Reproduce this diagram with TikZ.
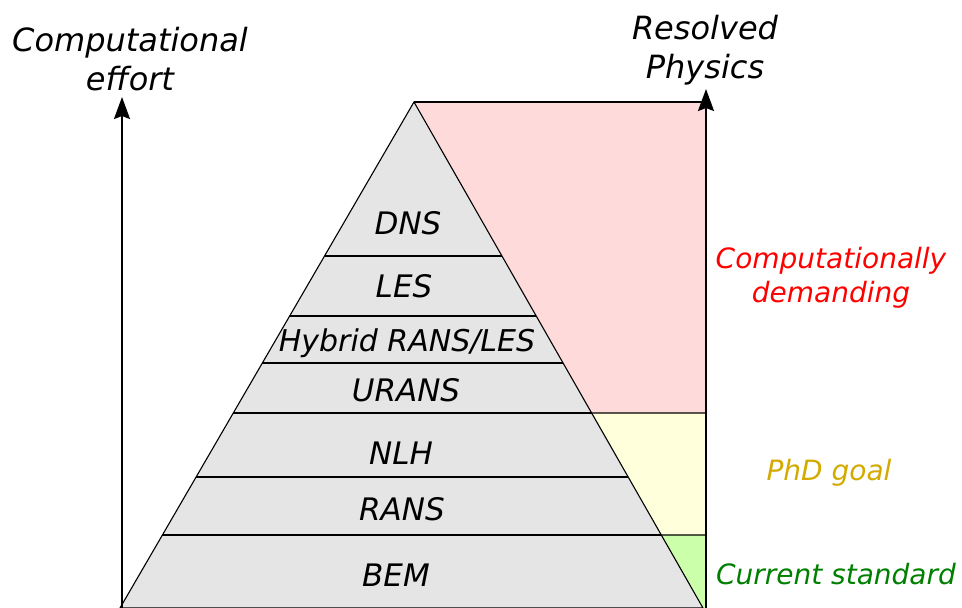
\documentclass[tikz,border=0pt]{standalone}
\usepackage{fontspec}
\setmainfont{DejaVu Sans}
\usetikzlibrary{calc,arrows.meta}
\definecolor{pinkfill}{HTML}{FFDADA}
\definecolor{yellowfill}{HTML}{FFFFDC}
\definecolor{greenfill}{HTML}{CCFFAA}
\definecolor{grayfill}{HTML}{E5E5E5}
\definecolor{goldtext}{HTML}{D4AA00}
\definecolor{greentext}{HTML}{008000}
\begin{document}
\begin{tikzpicture}[x=1pt,y=-1pt,
  lbl/.style={font=\fontsize{31}{36}\selectfont\itshape, inner sep=0pt, anchor=center},
  axislbl/.style={font=\fontsize{32}{39}\selectfont\itshape, align=center, inner sep=0pt},
  sidelbl/.style={font=\fontsize{28}{34}\selectfont\itshape, align=center, inner sep=0pt},
  edge/.style={draw=black, line width=1.1pt},
  axis/.style={line width=2pt, -{Stealth[length=22pt,width=16pt,inset=3pt]}}]
\useasboundingbox (0,0) rectangle (962,608);
\coordinate (apex) at (414,102);
\coordinate (bl) at (120,608);
\coordinate (br) at (703,608);
\coordinate (tr) at (706,102);
% pyramid level points
\foreach \n/\y in {a/256,b/316,c/363,d/413,e/477,f/535}{
  \pgfmathsetmacro{\t}{(\y-102)/506}
  \coordinate (L\n) at ($(apex)!\t!(bl)$);
  \coordinate (R\n) at ($(apex)!\t!(br)$);
}
\coordinate (Yd) at (706,413);
\coordinate (Yf) at (706,535);
\coordinate (Yb) at (706,608);
% coloured regions
\fill[pinkfill] (apex) -- (tr) -- (Yd) -- (Rd) -- cycle;
\fill[yellowfill] (Rd) -- (Yd) -- (Yf) -- (Rf) -- cycle;
\fill[greenfill] (Rf) -- (Yf) -- (Yb) -- (br) -- cycle;
\draw[edge] (apex) -- (tr);
\draw[edge] (Rd) -- (Yd);
\draw[edge] (Rf) -- (Yf);
% pyramid
\filldraw[fill=grayfill, edge] (apex) -- (bl) -- (br) -- cycle;
\foreach \n in {a,b,c,d,e,f}{ \draw[edge] (L\n) -- (R\n); }
% axes
\coordinate (ax1s) at (122,608);
\coordinate (ax1e) at (122,97);
\coordinate (ax2s) at (706,608);
\coordinate (ax2e) at (706,89);
\draw[axis] (ax1s) -- (ax1e);
\draw[axis] (ax2s) -- (ax2e);
% labels
\node[lbl] (dns) at (408,223) {DNS};
\node[lbl] (les) at (404,286) {LES};
\node[lbl, font=\fontsize{30}{36}\selectfont\itshape] (hyb) at (407,343) {Hybrid RANS/LES};
\node[lbl] (urans) at (406,390) {URANS};
\node[lbl] (nlh) at (401,453) {NLH};
\node[lbl] (rans) at (402,509) {RANS};
\node[lbl] (bem) at (396,575) {BEM};
\node[axislbl] (ce) at (130,59) {Computational\\effort};
\node[axislbl] (rp) at (705,50) {Resolved\\Physics};
\node[sidelbl, text=red] (cd) at (831,278) {Computationally\\demanding};
\node[sidelbl, text=goldtext] (phd) at (829,473) {PhD goal};
\node[sidelbl, text=greentext] (cs) at (836,574) {Current standard};
\end{tikzpicture}
\end{document}
